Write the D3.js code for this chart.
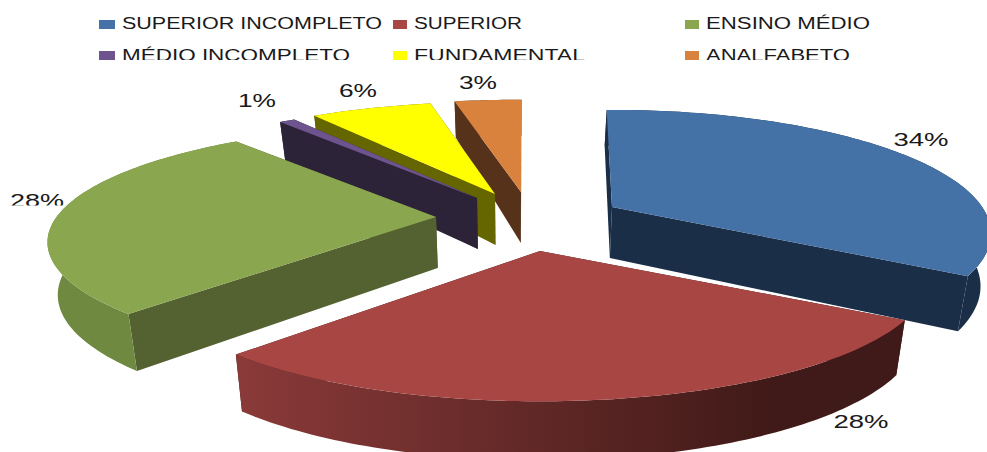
<!DOCTYPE html>
<html><head><meta charset="utf-8">
<script src="https://cdn.jsdelivr.net/npm/d3@7"></script>
<style>html,body{margin:0;background:#fff}svg{display:block}text{font-family:"Liberation Sans",Arial,sans-serif;fill:#1a1a1a}</style>
</head><body><svg id="c" width="987" height="452"></svg>
<script>
const categories=["SUPERIOR INCOMPLETO","SUPERIOR","ENSINO MÉDIO","MÉDIO INCOMPLETO","FUNDAMENTAL","ANALFABETO"];
const values=[34.4,28.4,27.8,0.8,6.4,3.4];
const topColors=["#4472a6","#a84644","#8aa64e","#6e548f","#ffff00","#d9823d"];
const faceColors=["#1b2e47","#401a18","#546130","#2c2338","#666600","#57321a"];
const rimFrom=["#1b2e47","#8a3a39","#6f8a40","#2c2338","#666600","#57321a"];
const rimTo=["#1b2e47","#401a18","#6f8a40","#2c2338","#666600","#57321a"];
// layout: screen position of each exploded slice's apex, and small per-slice fit factors
const apexX=[612,540,436,477,495,521];
const apexY=[207,251,217,198,194,192];
const radX=[0.995,1.02,1.02,1.02,1,1.04];
const radY=[1,1,0.95,0.95,0.95,0.95];
const twistDeg=[0,0,0.7,1.3,1,1.1];
const labelX=[921,861,37,257,358,478];
const labelY=[146,428,207,107,97,89];
const labelW=[55,55,54,38,38,38];
const legendX=[99,393,685];
const legendY=[29,61];
const legendW=[260,108,164,228,171,144];

const svg=d3.select("#c");
const R=372,B=118,K=0.215;
const sx=d3.scaleLinear().domain([-1,1]).range([-R,R]);
const sy=d3.scaleLinear().domain([-1,1]).range([-B,B]);
const pie=d3.pie().sort(null).startAngle(-1*Math.PI/180).endAngle(359*Math.PI/180);
const arcs=pie(values);
const defs=svg.append("defs");
defs.append("clipPath").attr("id","row2").append("rect").attr("x",0).attr("y",0).attr("width",987).attr("height",60);
defs.append("clipPath").attr("id","lab").append("rect").attr("x",0).attr("y",0).attr("width",987).attr("height",205.5);
const line=d3.line();
function proj(a,i){
  const u=Math.sin(a),v=-Math.cos(a),s=1/(1-K*v);
  return {x:apexX[i]+sx(u*s)*radX[i],y:apexY[i]+sy(v*s)*radY[i],v};
}
function low(p){
  const d=p.v>0?51+8*p.v:51+15*p.v;
  return [p.x-0.022*(p.x-515),p.y+d];
}
const order=[5,4,3,0,2,1];
order.forEach(i=>{
  const d=arcs[i],tw=twistDeg[i]*Math.PI/180,a0=d.startAngle+tw,a1=d.endAngle+tw;
  const n=Math.max(4,Math.ceil((a1-a0)/0.02));
  const pts=d3.range(n+1).map(k=>proj(a0+(a1-a0)*k/n,i));
  const c={x:apexX[i],y:apexY[i],v:0};
  const xy=p=>[p.x,p.y];
  const g=svg.append("g");
  const gid="rim"+i;
  const ext=d3.extent(pts,p=>p.x);
  const lg=defs.append("linearGradient").attr("id",gid).attr("gradientUnits","userSpaceOnUse")
    .attr("x1",ext[0]).attr("x2",i===1?ext[0]+(ext[1]-ext[0])*0.8:ext[1]).attr("y1",0).attr("y2",0);
  lg.append("stop").attr("offset",0).attr("stop-color",rimFrom[i]);
  lg.append("stop").attr("offset",1).attr("stop-color",rimTo[i]);
  [pts[0],pts[n]].forEach(e=>{
    g.append("path").attr("d",line([xy(c),xy(e),low(e),low(c)])+"Z").attr("fill",faceColors[i]);
  });
  g.append("path").attr("d",line(pts.map(xy).concat(pts.map(low).reverse()))+"Z").attr("fill",`url(#${gid})`);
  g.append("path").attr("d",line([xy(c)].concat(pts.map(xy)))+"Z").attr("fill",topColors[i]);
});
// data labels
const pct=d3.format(".0f");
values.forEach((v,i)=>{
  svg.append("text").attr("x",labelX[i]).attr("y",labelY[i]).attr("text-anchor","middle")
    .attr("font-size",19).attr("textLength",labelW[i]).attr("lengthAdjust","spacingAndGlyphs")
    .attr("clip-path",i===2?"url(#lab)":null).text(pct(v)+"%");
});
// legend
categories.forEach((t,i)=>{
  const col=i%3,row=Math.floor(i/3);
  const g=svg.append("g").attr("clip-path",row===1?"url(#row2)":null);
  g.append("rect").attr("x",legendX[col]).attr("y",legendY[0]-9+row*31).attr("width",col===0?16:14).attr("height",9).attr("fill",topColors[i]);
  g.append("text").attr("x",legendX[col]+(col===0?23:21)).attr("y",legendY[row]).attr("font-size",16)
    .attr("textLength",legendW[i]).attr("lengthAdjust","spacingAndGlyphs").text(t);
});
</script></body></html>
